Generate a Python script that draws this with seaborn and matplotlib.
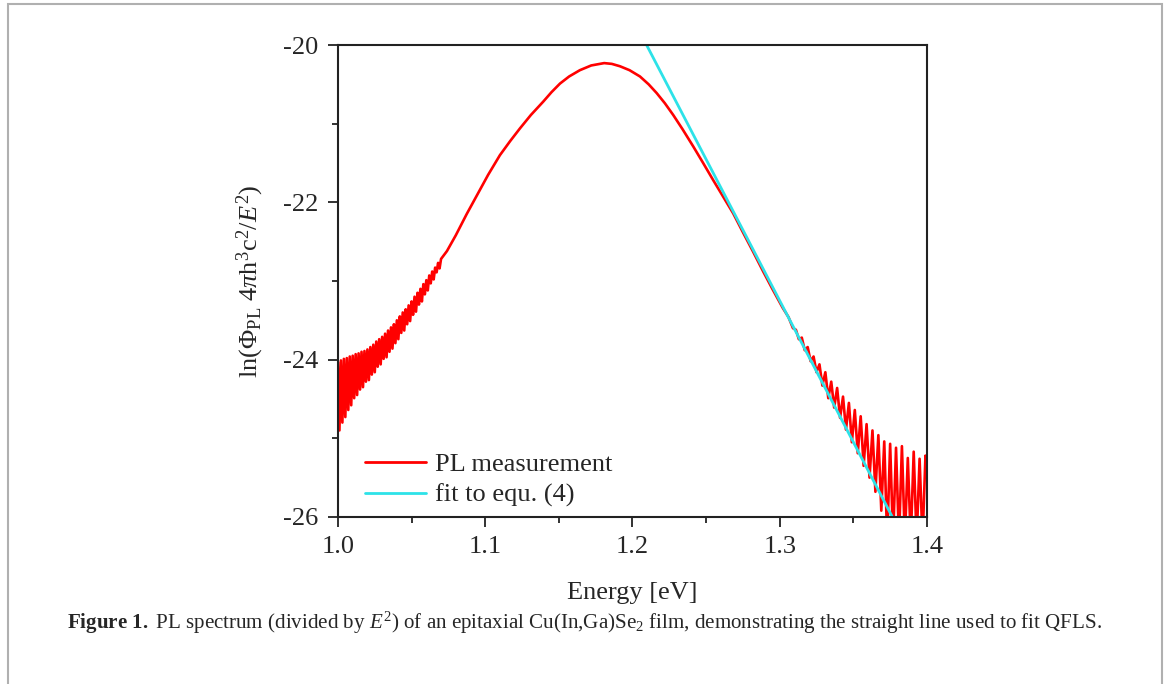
import numpy as np
import pandas as pd
import matplotlib
matplotlib.use("Agg")
import matplotlib.pyplot as plt
import seaborn as sns
from matplotlib.patches import Rectangle

# PL spectrum (noisy ends listed as alternating highs / lows)
pl_energy = [
    1.000, 1.001, 1.002, 1.003, 1.004, 1.005, 1.006, 1.007, 1.008, 1.009,
    1.010, 1.011, 1.012, 1.013, 1.014, 1.015, 1.016, 1.017, 1.018, 1.019,
    1.020, 1.021, 1.022, 1.023, 1.024, 1.025, 1.026, 1.027, 1.028, 1.029,
    1.030, 1.031, 1.032, 1.033, 1.034, 1.035, 1.036, 1.037, 1.038, 1.039,
    1.040, 1.041, 1.042, 1.043, 1.044, 1.045, 1.046, 1.047, 1.048, 1.049,
    1.050, 1.051, 1.052, 1.053, 1.054, 1.055, 1.056, 1.057, 1.058, 1.059,
    1.060, 1.061, 1.062, 1.063, 1.064, 1.065, 1.066, 1.067, 1.068, 1.069,
    1.070,
    1.074, 1.080, 1.0874, 1.095, 1.102, 1.110, 1.117, 1.1236, 1.131, 1.1394,
    1.145, 1.1508, 1.157, 1.1643, 1.172, 1.1808, 1.186, 1.1915, 1.198, 1.2051,
    1.211, 1.2164, 1.222, 1.2277, 1.234, 1.2413, 1.248, 1.2549, 1.262, 1.2684,
    1.275, 1.282, 1.2888, 1.295, 1.302, 1.306, 1.309, 1.311, 1.313, 1.315,
    1.317, 1.319, 1.321, 1.323, 1.325,
    1.327, 1.329, 1.331, 1.333, 1.335, 1.337, 1.339, 1.341, 1.343, 1.345,
    1.347, 1.349, 1.351, 1.353, 1.355, 1.357, 1.359, 1.361, 1.363, 1.365,
    1.367, 1.369, 1.371, 1.373, 1.375, 1.377, 1.379, 1.381, 1.383, 1.385,
    1.387, 1.389, 1.391, 1.393, 1.395, 1.397, 1.399, 1.400,
]
pl_ln = [
    -24.03, -24.90, -24.01, -24.80, -23.99, -24.73, -23.98, -24.64, -23.96, -24.58,
    -23.95, -24.49, -23.93, -24.45, -23.92, -24.38, -23.90, -24.35, -23.89, -24.28,
    -23.87, -24.26, -23.84, -24.19, -23.81, -24.16, -23.77, -24.09, -23.74, -24.06,
    -23.71, -23.99, -23.67, -23.97, -23.63, -23.90, -23.59, -23.86, -23.55, -23.79,
    -23.50, -23.74, -23.45, -23.66, -23.40, -23.63, -23.36, -23.55, -23.31, -23.51,
    -23.26, -23.43, -23.20, -23.39, -23.15, -23.30, -23.10, -23.26, -23.04, -23.17,
    -22.99, -23.12, -22.93, -23.03, -22.88, -22.98, -22.83, -22.89, -22.77, -22.84,
    -22.72,
    -22.62, -22.42, -22.15, -21.89, -21.65, -21.40, -21.22, -21.06, -20.89, -20.72,
    -20.60, -20.49, -20.40, -20.32, -20.26, -20.23, -20.24, -20.27, -20.32, -20.40,
    -20.50, -20.61, -20.74, -20.89, -21.07, -21.29, -21.50, -21.72, -21.94, -22.14,
    -22.38, -22.63, -22.88, -23.10, -23.34, -23.46, -23.60, -23.62, -23.74, -23.72,
    -23.88, -23.84, -24.02, -23.96, -24.16,
    -24.06, -24.33, -24.16, -24.49, -24.28, -24.61, -24.36, -24.74, -24.47, -24.89,
    -24.55, -25.05, -24.64, -25.19, -24.72, -25.35, -24.82, -25.50, -24.90, -25.68,
    -24.96, -25.92, -25.04, -26.30, -25.07, -26.30, -25.12, -26.30, -25.10, -26.30,
    -25.25, -26.30, -25.17, -26.30, -25.26, -26.30, -25.22, -25.40,
]

# straight-line fit (end points)
fit_energy = [1.2096, 1.3765]
fit_ln = [-20.0, -26.0]

x_ticks = [1.0, 1.1, 1.2, 1.3, 1.4]
y_ticks = [-26, -24, -22, -20]

sns.set_theme(style="ticks")
plt.rcParams["font.family"] = ["Liberation Serif", "DejaVu Serif"]
plt.rcParams["mathtext.fontset"] = "custom"
plt.rcParams["mathtext.rm"] = "Liberation Serif"
plt.rcParams["mathtext.it"] = "Liberation Serif:italic"
plt.rcParams["mathtext.bf"] = "Liberation Serif:bold"

fig = plt.figure(figsize=(11.67, 6.84), dpi=100)
ax = fig.add_axes([0.2896, 0.2442, 0.5047, 0.69])

sns.lineplot(x=pl_energy, y=pl_ln, ax=ax, color="#ff0000", lw=1.9,
             sort=False, estimator=None, label="PL measurement")
sns.lineplot(x=fit_energy, y=fit_ln, ax=ax, color="#2de2e8", lw=2.0,
             sort=False, estimator=None, label="fit to equ. (4)")

ax.set_xlim(1.0, 1.4)
ax.set_ylim(-26, -20)
ax.set_xticks(x_ticks)
ax.set_yticks(y_ticks)
ax.set_xticklabels([f"{v:.1f}" for v in x_ticks])
ax.set_yticklabels([str(v) for v in y_ticks])
ax.set_xticks([1.05, 1.15, 1.25, 1.35], minor=True)
ax.set_yticks([-25, -23, -21], minor=True)
ax.tick_params(which="major", direction="out", length=7, width=1.3,
               labelsize=19, pad=7, color="#222222")
ax.tick_params(which="minor", direction="out", length=4.5, width=1.3,
               color="#222222")
for sp in ax.spines.values():
    sp.set_linewidth(1.5)
    sp.set_color("#222222")

ax.set_xlabel("Energy [eV]", fontsize=19, labelpad=17)
ax.set_ylabel(r"ln($\Phi_{\rm PL}$ 4$\pi$h$^3$c$^2$/$E^2$)", fontsize=19,
              labelpad=12)

leg = ax.legend(loc="lower left", bbox_to_anchor=(0.006, -0.03), frameon=False,
                fontsize=19, handlelength=2.3, handletextpad=0.35,
                labelspacing=0.28)
for h in leg.get_lines():
    h.set_linewidth(2)

fig.text(0.0575, 0.089,
         r"$\mathbf{Figure\ 1.}$ PL spectrum (divided by $E^2$) of an epitaxial "
         r"Cu(In,Ga)Se$_2$ film, demonstrating the straight line used to fit QFLS.",
         fontsize=15.1, ha="left", va="center")

fig.patches.append(Rectangle((8 / 1167, -0.05), 1154 / 1167, 1.05 - 4 / 684,
                             transform=fig.transFigure, fill=False,
                             edgecolor="#b0b0b0", lw=1.5))

fig.savefig("out.png", dpi=100)
